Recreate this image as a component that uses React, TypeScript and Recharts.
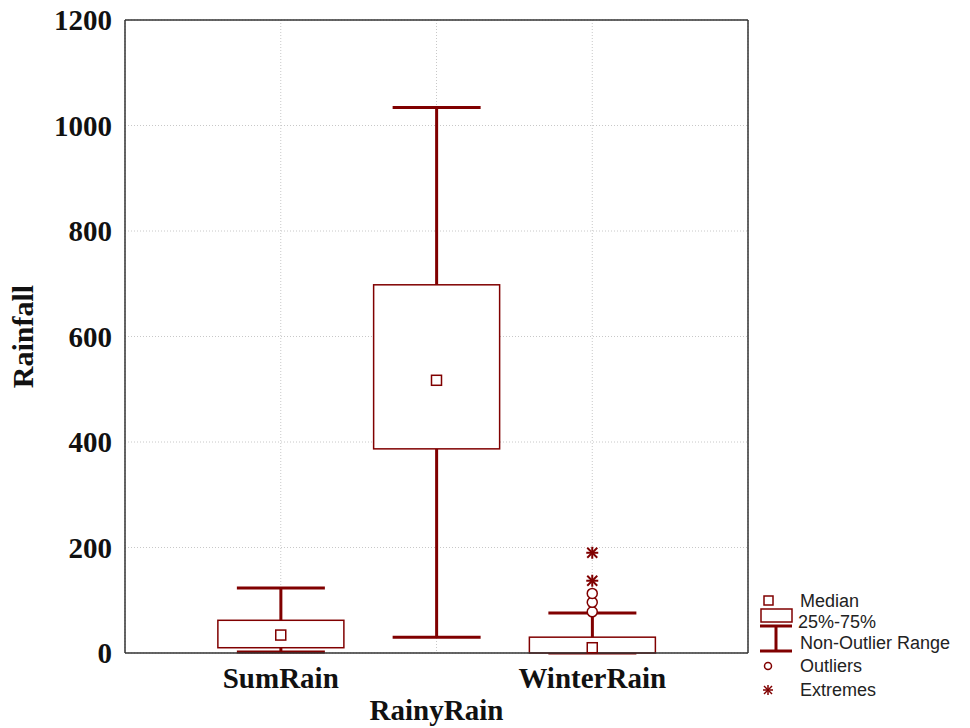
import React from 'react'
import {
    ComposedChart,
    Bar,
    Scatter,
    XAxis,
    YAxis,
    CartesianGrid,
    ReferenceLine,
} from 'recharts'

// Box plot summary per variable
const categories = ['SumRain', 'RainyRain', 'WinterRain']
const positions = [1, 2, 3]
const mins = [2, 30, 0]
const q1s = [10, 387, 0]
const medians = [34, 517, 10]
const q3s = [62, 698, 30]
const maxs = [123, 1034, 76]

// Points beyond the whiskers (WinterRain only)
const outlierCats = [3, 3, 3]
const outlierVals = [78, 96, 113]
const extremeCats = [3, 3]
const extremeVals = [137, 190]

const yTicks = [0, 200, 400, 600, 800, 1000, 1200]

const MAROON = '#800000'
const SERIF = '"Liberation Serif", "Times New Roman", serif'
const SANS = '"Liberation Sans", Arial, sans-serif'
const CAP = 88

const boxData = positions.map((x, i) => ({
    x,
    base: mins[i],
    lowW: q1s[i] - mins[i],
    box: q3s[i] - q1s[i],
    upW: maxs[i] - q3s[i],
}))
const medianData = positions.map((x, i) => ({ x, y: medians[i] }))
const outlierData = outlierCats.map((x, i) => ({ x, y: outlierVals[i] }))
const extremeData = extremeCats.map((x, i) => ({ x, y: extremeVals[i] }))

const LowWhisker = (p: any) => {
    const cx = p.x + p.width / 2
    const bottom = p.y + p.height
    return (
        <g stroke={MAROON} strokeWidth={3}>
            <line x1={cx} x2={cx} y1={p.y} y2={bottom} />
            <line x1={cx - CAP / 2} x2={cx + CAP / 2} y1={bottom} y2={bottom} />
        </g>
    )
}

const UpWhisker = (p: any) => {
    const cx = p.x + p.width / 2
    return (
        <g stroke={MAROON} strokeWidth={3}>
            <line x1={cx} x2={cx} y1={p.y} y2={p.y + p.height} />
            <line x1={cx - CAP / 2} x2={cx + CAP / 2} y1={p.y} y2={p.y} />
        </g>
    )
}

const BoxShape = (p: any) => (
    <rect x={p.x} y={p.y} width={p.width} height={p.height} fill="#fff" stroke={MAROON} strokeWidth={1.5} />
)

const MedianShape = (p: any) => (
    <rect x={p.cx - 5} y={p.cy - 5} width={10} height={10} fill="#fff" stroke={MAROON} strokeWidth={1.5} />
)

const OutlierShape = (p: any) => (
    <circle cx={p.cx} cy={p.cy} r={5} fill="#fff" stroke={MAROON} strokeWidth={1.5} />
)

const StarShape = (p: any) => (
    <g stroke={MAROON} strokeWidth={2}>
        <line x1={p.cx - 6} x2={p.cx + 6} y1={p.cy} y2={p.cy} />
        <line x1={p.cx} x2={p.cx} y1={p.cy - 6} y2={p.cy + 6} />
        <line x1={p.cx - 5} x2={p.cx + 5} y1={p.cy - 5} y2={p.cy + 5} />
        <line x1={p.cx - 5} x2={p.cx + 5} y1={p.cy + 5} y2={p.cy - 5} />
    </g>
)

// staggered category labels, the middle one sits lower
const CatTick = (p: any) => {
    const idx = positions.indexOf(p.payload.value)
    const lower = idx % 2 === 1
    return (
        <text
            x={p.x}
            y={p.y + (lower ? 32 : 0)}
            dy="0.71em"
            textAnchor="middle"
            fontFamily={SERIF}
            fontWeight="bold"
            fontSize={29}
            fill="#111"
        >
            {categories[idx]}
        </text>
    )
}

const LegendBox = () => (
    <svg width={214} height={120} style={{ position: 'absolute', left: 756, top: 590 }}>
        <g fontFamily={SANS} fontSize={18} fill="#222">
            <rect x={8} y={6} width={9} height={9} fill="#fff" stroke={MAROON} strokeWidth={1.5} />
            <text x={44} y={11} dy="0.35em">Median</text>

            <rect x={5} y={19} width={31} height={13} fill="#fff" stroke={MAROON} strokeWidth={1.5} />
            <text x={42} y={32} dy="0.35em">25%-75%</text>

            <g stroke={MAROON} strokeWidth={3}>
                <line x1={4} x2={36} y1={36} y2={36} />
                <line x1={20} x2={20} y1={36} y2={61} />
                <line x1={4} x2={36} y1={61} y2={61} />
            </g>
            <text x={44} y={53} dy="0.35em">Non-Outlier Range</text>

            <circle cx={12} cy={76} r={3.5} fill="#fff" stroke={MAROON} strokeWidth={1.5} />
            <text x={44} y={76} dy="0.35em">Outliers</text>

            <g stroke={MAROON} strokeWidth={1.5}>
                <line x1={7} x2={17} y1={100} y2={100} />
                <line x1={12} x2={12} y1={95} y2={105} />
                <line x1={8} x2={16} y1={96} y2={104} />
                <line x1={8} x2={16} y1={104} y2={96} />
            </g>
            <text x={44} y={100} dy="0.35em">Extremes</text>
        </g>
    </svg>
)

export default function App() {
    return (
        <div style={{ position: 'absolute', left: 0, top: 0, width: 970, height: 728, background: '#fff' }}>
            <ComposedChart
                width={970}
                height={728}
                data={boxData}
                margin={{ top: 20, right: 222, bottom: 0, left: 0 }}
            >
                <CartesianGrid stroke="#c8c8c8" strokeDasharray="1 2" />
                <XAxis
                    dataKey="x"
                    type="number"
                    domain={[0, 4]}
                    ticks={positions}
                    height={75}
                    tick={<CatTick />}
                    tickLine={false}
                    tickSize={8}
                    tickMargin={6}
                    axisLine={{ stroke: '#333', strokeWidth: 1.5 }}
                />
                <YAxis
                    type="number"
                    domain={[0, 1200]}
                    ticks={yTicks}
                    width={125}
                    tickLine={false}
                    tickSize={8}
                    tickMargin={5}
                    axisLine={{ stroke: '#333', strokeWidth: 1.5 }}
                    tick={{ fill: '#111', fontFamily: SERIF, fontWeight: 'bold', fontSize: 29 }}
                    label={{
                        value: 'Rainfall',
                        angle: -90,
                        position: 'insideLeft',
                        offset: 22,
                        style: { fill: '#111', fontFamily: SERIF, fontWeight: 'bold', fontSize: 30, textAnchor: 'middle' },
                    }}
                />
                {/* frame: top and right borders */}
                <ReferenceLine y={1200} stroke="#333" strokeWidth={1.5} />
                <ReferenceLine x={4} stroke="#333" strokeWidth={1.5} />
                <Bar dataKey="base" stackId="bp" barSize={126} fill="transparent" isAnimationActive={false} />
                <Bar dataKey="lowW" stackId="bp" barSize={126} shape={<LowWhisker />} isAnimationActive={false} />
                <Bar dataKey="box" stackId="bp" barSize={126} shape={<BoxShape />} isAnimationActive={false} />
                <Bar dataKey="upW" stackId="bp" barSize={126} shape={<UpWhisker />} isAnimationActive={false} />
                <Scatter data={medianData} dataKey="y" shape={<MedianShape />} isAnimationActive={false} />
                <Scatter data={outlierData} dataKey="y" shape={<OutlierShape />} isAnimationActive={false} />
                <Scatter data={extremeData} dataKey="y" shape={<StarShape />} isAnimationActive={false} />
            </ComposedChart>
            <LegendBox />
        </div>
    )
}
